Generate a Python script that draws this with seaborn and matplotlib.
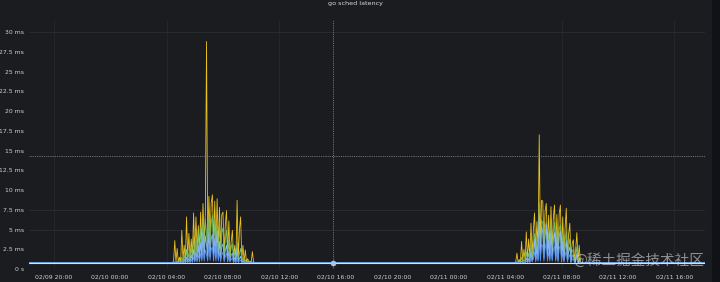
import matplotlib
matplotlib.use("Agg")
import numpy as np
import pandas as pd
import matplotlib.pyplot as plt
import matplotlib.dates as mdates
import matplotlib.patches as mpatches
import seaborn as sns

# ---------------- data ----------------
title = "go sched latency"
watermark = "@稀土掘金技术社区"

series_names = ["p99", "p90", "p75", "p50", "min"]
series_colors = ["#E9C31E", "#73BF69", "#8AB8FF", "#5794F2", "#E2E2E2"]

range_start = "2022-02-09 18:15"
range_end = "2022-02-11 18:10"
step = "5min"
baseline_ms = [0.8, 0.8, 0.8, 0.8, 0.8]

burst1_start = "2022-02-10 04:30"
burst2_start = "2022-02-11 04:45"

p99_burst1 = [1.0, 3.6, 0.9, 2.6, 0.9, 1.5, 0.9, 4.9, 1.2, 3.0,
              1.0, 6.6, 1.5, 4.5, 1.3, 3.8, 1.6, 7.1, 2.0, 6.6,
              2.2, 5.5, 2.4, 7.2, 3.0, 8.3, 3.5, 7.0, 28.8, 3.0,
              9.2, 4.0, 8.4, 9.4, 3.5, 8.6, 3.0, 8.9, 2.8, 7.8,
              2.5, 6.9, 7.2, 2.0, 5.6, 7.4, 1.8, 6.1, 1.6, 3.5,
              4.9, 1.4, 3.0, 1.2, 8.7, 1.3, 5.0, 6.6, 1.2, 3.0,
              1.0, 2.4, 0.9, 1.3, 0.9, 1.0, 0.9, 2.2, 0.9, 0.8]
p90_burst1 = [0.8, 0.9, 0.8, 1.0, 0.8, 1.2, 0.8, 1.5, 0.9, 1.8,
              0.9, 2.5, 1.0, 2.0, 1.1, 2.8, 1.2, 4.2, 1.4, 3.6,
              1.5, 4.8, 1.6, 5.2, 1.8, 5.9, 2.0, 6.3, 4.5, 2.2,
              6.6, 2.4, 5.8, 6.8, 2.2, 6.1, 2.0, 5.5, 1.9, 6.0,
              1.8, 4.6, 5.2, 1.6, 3.8, 4.9, 1.5, 3.6, 1.4, 2.8,
              3.2, 1.2, 2.2, 1.1, 3.4, 1.0, 2.0, 2.6, 0.9, 1.5,
              0.9, 1.2, 0.8, 1.0, 0.8, 0.9, 0.8, 0.9, 0.8, 0.8]
p75_burst1 = [0.8, 0.8, 0.8, 0.9, 0.8, 0.9, 0.8, 1.0, 0.8, 1.2,
              0.8, 1.5, 0.9, 1.3, 0.9, 1.8, 1.0, 2.5, 1.0, 2.2,
              1.1, 3.0, 1.2, 3.4, 1.3, 4.6, 1.4, 4.2, 3.0, 1.5,
              4.6, 1.6, 3.8, 4.4, 1.5, 3.9, 1.4, 4.8, 1.3, 3.5,
              1.2, 2.8, 3.2, 1.1, 2.4, 3.0, 1.0, 2.2, 1.0, 1.8,
              2.0, 0.9, 1.5, 0.9, 2.6, 0.9, 1.3, 1.6, 0.8, 1.1,
              0.8, 0.9, 0.8, 0.8, 0.8, 0.8, 0.8, 0.8, 0.8, 0.8]
p50_burst1 = [0.8, 0.8, 0.8, 0.8, 0.8, 0.8, 0.8, 0.9, 0.8, 0.9,
              0.8, 1.0, 0.8, 1.0, 0.8, 1.2, 0.8, 1.5, 0.9, 1.4,
              0.9, 1.8, 0.9, 2.0, 1.0, 2.6, 1.0, 2.4, 1.8, 1.0,
              3.2, 1.1, 2.5, 2.8, 1.0, 2.9, 1.0, 3.3, 1.0, 2.2,
              0.9, 1.8, 2.1, 0.9, 1.6, 2.0, 0.9, 1.5, 0.9, 1.2,
              1.4, 0.8, 1.1, 0.8, 1.6, 0.8, 1.0, 1.1, 0.8, 0.9,
              0.8, 0.8, 0.8, 0.8, 0.8, 0.8, 0.8, 0.8, 0.8, 0.8]

p99_burst2 = [0.9, 2.0, 0.9, 1.2, 0.9, 3.5, 1.0, 2.5, 1.1, 4.7,
              1.3, 3.8, 1.5, 5.8, 1.8, 4.9, 7.1, 2.2, 6.0, 2.5,
              17.0, 3.0, 8.7, 8.6, 3.2, 7.4, 8.3, 3.0, 6.8, 2.8,
              7.9, 2.6, 6.5, 8.1, 2.4, 6.9, 2.2, 7.0, 8.1, 2.0,
              6.6, 1.8, 5.2, 7.7, 1.6, 4.4, 5.8, 1.4, 3.2, 3.7,
              1.2, 2.5, 4.6, 1.0, 3.0, 0.9, 0.8]
p90_burst2 = [0.8, 0.9, 0.8, 1.0, 0.8, 1.5, 0.9, 1.2, 0.9, 2.2,
              1.0, 2.0, 1.1, 3.2, 1.2, 2.8, 4.5, 1.4, 3.8, 1.6,
              8.4, 1.8, 6.2, 5.8, 1.9, 5.2, 6.0, 1.8, 4.6, 1.7,
              5.6, 1.6, 4.8, 5.9, 1.5, 4.9, 1.4, 5.0, 5.6, 1.3,
              4.2, 1.2, 3.6, 4.8, 1.1, 3.0, 3.8, 1.0, 2.2, 2.5,
              0.9, 1.7, 2.8, 0.9, 1.5, 0.8, 0.8]
p75_burst2 = [0.8, 0.8, 0.8, 0.9, 0.8, 1.0, 0.8, 0.9, 0.8, 1.4,
              0.9, 1.3, 0.9, 2.2, 1.0, 1.9, 3.6, 1.1, 2.8, 1.2,
              6.8, 1.3, 5.4, 4.6, 1.4, 4.2, 5.6, 1.3, 3.6, 1.3,
              4.8, 1.2, 3.8, 4.6, 1.2, 3.9, 1.1, 4.2, 4.8, 1.1,
              3.4, 1.0, 2.6, 3.6, 1.0, 2.2, 2.8, 0.9, 1.6, 1.8,
              0.8, 1.3, 2.0, 0.8, 1.1, 0.8, 0.8]
p50_burst2 = [0.8, 0.8, 0.8, 0.8, 0.8, 0.9, 0.8, 0.8, 0.8, 1.0,
              0.8, 1.0, 0.8, 1.5, 0.9, 1.3, 2.2, 0.9, 1.8, 1.0,
              3.8, 1.0, 3.2, 2.8, 1.0, 2.6, 3.4, 1.0, 2.2, 1.0,
              3.0, 1.0, 2.4, 2.9, 1.0, 2.5, 0.9, 2.6, 3.0, 0.9,
              2.2, 0.9, 1.7, 2.3, 0.9, 1.5, 1.8, 0.8, 1.2, 1.3,
              0.8, 1.0, 1.4, 0.8, 0.9, 0.8, 0.8]
min_burst1 = []
min_burst2 = []

bursts1 = [p99_burst1, p90_burst1, p75_burst1, p50_burst1, min_burst1]
bursts2 = [p99_burst2, p90_burst2, p75_burst2, p50_burst2, min_burst2]

y_ticks = [0, 2.5, 5, 7.5, 10, 12.5, 15, 17.5, 20, 22.5, 25, 27.5, 30]
y_tick_labels = ["0 s", "2.5 ms", "5 ms", "7.5 ms", "10 ms", "12.5 ms", "15 ms",
                 "17.5 ms", "20 ms", "22.5 ms", "25 ms", "27.5 ms", "30 ms"]
x_tick_first = "2022-02-09 20:00"
x_tick_last = "2022-02-11 16:00"
x_tick_every = "4h"

grid_y_values = [5, 7.5, 30]
grid_x_times = ["2022-02-09 20:00", "2022-02-10 04:00", "2022-02-10 12:00",
                "2022-02-11 08:00", "2022-02-11 16:00"]

crosshair_time = "2022-02-10 15:48"
crosshair_ms = 14.3
hover_ms = 0.8

# ---------------- build table ----------------
times = pd.date_range(range_start, range_end, freq=step)
frames = []
for name, base, b1, b2 in zip(series_names, baseline_ms, bursts1, bursts2):
    vals = pd.Series(base, index=times, dtype=float)
    if len(b1):
        vals.loc[pd.date_range(burst1_start, periods=len(b1), freq=step)] = b1
    if len(b2):
        vals.loc[pd.date_range(burst2_start, periods=len(b2), freq=step)] = b2
    frames.append(pd.DataFrame({"time": times, "value": vals.values, "series": name}))
df = pd.concat(frames, ignore_index=True)

# ---------------- style ----------------
BG = "#1b1c20"
TXT = "#cdd0d6"
sns.set_style("dark", {"axes.facecolor": BG, "figure.facecolor": BG})
plt.rcParams["font.family"] = ["DejaVu Sans", "Noto Sans CJK SC"]

fig = plt.figure(figsize=(7.2, 2.82), dpi=100)
fig.patch.set_facecolor(BG)
ax = fig.add_axes([29 / 720, 13 / 282, 676 / 720, 248.8 / 282])
ax.set_facecolor(BG)

# darker strip at right edge of screenshot
fig.patches.append(mpatches.Rectangle((712 / 720, 0), 8 / 720, 1, transform=fig.transFigure,
                                      facecolor="#111217", edgecolor="none", zorder=0))

# grid
for gy in grid_y_values:
    ax.axhline(gy, color="#2b2d32", lw=0.6, zorder=0)
for gx in grid_x_times:
    ax.axvline(pd.Timestamp(gx), color="#26282d", lw=0.6, zorder=0)

# series, drawn one by one so the stacking order is fixed
for k, (name, col) in enumerate(zip(series_names, series_colors)):
    sub = df[df["series"] == name]
    sns.lineplot(data=sub, x="time", y="value", color=col,
                 linewidth=0.6 if name != "min" else 0.8,
                 legend=False, estimator=None, ax=ax, zorder=2 + k)

# crosshair
ct = pd.Timestamp(crosshair_time)
ax.axvline(ct, color="#8a8d93", lw=0.6, ls=(0, (1, 1.2)), zorder=10)
ax.axhline(crosshair_ms, color="#8a8d93", lw=0.6, ls=(0, (1, 1.2)), zorder=10)
sns.scatterplot(x=[ct], y=[hover_ms], color="#a9c5f0", s=14, edgecolor="#a9c5f0",
                ax=ax, zorder=11, legend=False)

ax.set_xlim(pd.Timestamp(range_start), pd.Timestamp(range_end))
ax.set_ylim(0, 31.5)
ax.set_yticks(y_ticks)
ax.set_yticklabels(y_tick_labels)
ax.set_xticks(pd.date_range(x_tick_first, x_tick_last, freq=x_tick_every))
ax.xaxis.set_major_formatter(mdates.DateFormatter("%m/%d %H:%M"))
ax.tick_params(axis="both", length=0, labelsize=4.4, labelcolor=TXT)
ax.tick_params(axis="x", pad=4.3)
ax.tick_params(axis="y", pad=3.6)
ax.set_xlabel("")
ax.set_ylabel("")
ax.grid(False)
for s in ax.spines.values():
    s.set_visible(False)

fig.text(355 / 720, 1.0 - 0.5 / 282, title, ha="center", va="top",
         fontsize=4.6, color="#d8d9da", fontweight="medium")
fig.text(573 / 720, 1 - 260.5 / 282, watermark, ha="left", va="center",
         fontsize=10.5, color="#dcdcdc", alpha=0.6,
         family=["Noto Sans CJK SC", "DejaVu Sans"])

fig.savefig("out.png", dpi=100, facecolor=BG)
